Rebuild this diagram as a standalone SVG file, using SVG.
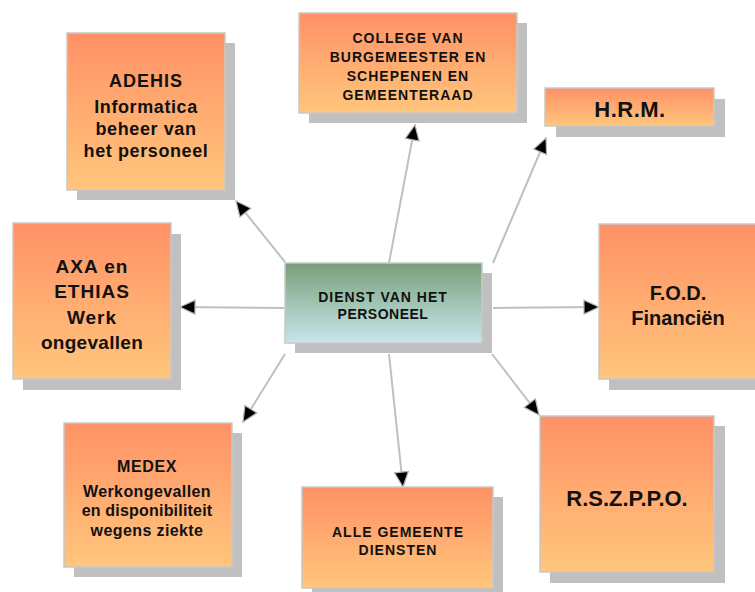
<svg xmlns="http://www.w3.org/2000/svg" width="755" height="592" viewBox="0 0 755 592">
<defs>
<linearGradient id="og" x1="0" y1="0" x2="0" y2="1">
<stop offset="0" stop-color="#FF9166"/>
<stop offset="1" stop-color="#FFC67C"/>
</linearGradient>
<linearGradient id="gg" x1="0" y1="0" x2="0" y2="1">
<stop offset="0" stop-color="#79A079"/>
<stop offset="1" stop-color="#C6E6EC"/>
</linearGradient>
<marker id="ah" markerUnits="userSpaceOnUse" markerWidth="18" markerHeight="18" refX="16" refY="8" orient="auto">
<path d="M1,1 L16,8 L1,15 Z" fill="#000" stroke="#b4b4b4" stroke-width="1.2"/>
</marker>
</defs>
<style>
.sh{fill:#c0c0c0}
.bx{fill:url(#og);stroke:#c8c8c8;stroke-width:1.5}
.cb{fill:url(#gg);stroke:#c8c8c8;stroke-width:1.5}
.t{font-family:"Liberation Sans",Arial,sans-serif;font-weight:bold;fill:#111;text-anchor:middle}
.con line{stroke:#c0c0c0;stroke-width:2;marker-end:url(#ah)}
</style>
<rect width="755" height="592" fill="#fff"/>

<g id="connectors" class="con">
<line x1="285" y1="262" x2="236" y2="201"/>
<line x1="389" y1="263" x2="415" y2="125"/>
<line x1="493" y1="263" x2="546" y2="138"/>
<line x1="284" y1="308" x2="180" y2="307"/>
<line x1="493" y1="308" x2="599" y2="307"/>
<line x1="285" y1="354" x2="243" y2="422"/>
<line x1="389" y1="354" x2="403" y2="487"/>
<line x1="492" y1="354" x2="539" y2="415"/>
</g>

<g id="center">
<rect class="sh" x="295" y="273" width="197" height="80"/>
<rect class="cb" x="285" y="263" width="197" height="80"/>
<text class="t" x="383" y="302" font-size="14" letter-spacing="1">DIENST VAN HET</text>
<text class="t" x="383" y="319" font-size="14" letter-spacing="0.5">PERSONEEL</text>
</g>

<g id="adehis">
<rect class="sh" x="77" y="43" width="158" height="157"/>
<rect class="bx" x="67" y="33" width="158" height="157"/>
<text class="t" x="146" y="87" font-size="18" letter-spacing="1">ADEHIS</text>
<text class="t" x="146" y="113" font-size="18" letter-spacing="0.6">Informatica</text>
<text class="t" x="146" y="135" font-size="18" letter-spacing="0.6">beheer van</text>
<text class="t" x="146" y="157" font-size="18" letter-spacing="0.6">het personeel</text>
</g>

<g id="college">
<rect class="sh" x="309" y="23" width="218" height="100"/>
<rect class="bx" x="299" y="13" width="218" height="100"/>
<text class="t" x="408" y="43" font-size="14" letter-spacing="1">COLLEGE VAN</text>
<text class="t" x="408" y="62" font-size="14" letter-spacing="1">BURGEMEESTER EN</text>
<text class="t" x="408" y="81" font-size="14" letter-spacing="1">SCHEPENEN EN</text>
<text class="t" x="408" y="100" font-size="14" letter-spacing="1">GEMEENTERAAD</text>
</g>

<g id="hrm">
<rect class="sh" x="556" y="99" width="169" height="38"/>
<rect class="bx" x="545" y="88" width="169" height="38"/>
<text class="t" x="630" y="117" font-size="22" letter-spacing="0.5">H.R.M.</text>
</g>

<g id="axa">
<rect class="sh" x="23" y="234" width="158" height="156"/>
<rect class="bx" x="13" y="223" width="158" height="156"/>
<text class="t" x="92" y="273" font-size="19" letter-spacing="1">AXA en</text>
<text class="t" x="92" y="298" font-size="19" letter-spacing="1">ETHIAS</text>
<text class="t" x="92" y="324" font-size="19" letter-spacing="1">Werk</text>
<text class="t" x="92" y="349" font-size="19" letter-spacing="0.3">ongevallen</text>
</g>

<g id="fod">
<rect class="sh" x="609" y="234" width="158" height="156"/>
<rect class="bx" x="599" y="224" width="158" height="155"/>
<text class="t" x="678" y="300" font-size="20">F.O.D.</text>
<text class="t" x="678" y="325" font-size="20">Financiën</text>
</g>

<g id="medex">
<rect class="sh" x="74" y="433" width="168" height="144"/>
<rect class="bx" x="64" y="423" width="168" height="144"/>
<text class="t" x="147" y="472" font-size="16" letter-spacing="0.6">MEDEX</text>
<text class="t" x="147" y="497" font-size="16" letter-spacing="0.4">Werkongevallen</text>
<text class="t" x="147" y="516" font-size="16" letter-spacing="0.2">en disponibiliteit</text>
<text class="t" x="147" y="536" font-size="16" letter-spacing="0.4">wegens ziekte</text>
</g>

<g id="alle">
<rect class="sh" x="312" y="497" width="191" height="101"/>
<rect class="bx" x="302" y="487" width="191" height="101"/>
<text class="t" x="398" y="537" font-size="14" letter-spacing="1">ALLE GEMEENTE</text>
<text class="t" x="398" y="555" font-size="14" letter-spacing="1">DIENSTEN</text>
</g>

<g id="rsz">
<rect class="sh" x="550" y="426" width="175" height="157"/>
<rect class="bx" x="540" y="416" width="174" height="156"/>
<text class="t" x="627" y="506" font-size="22">R.S.Z.P.P.O.</text>
</g>
</svg>
